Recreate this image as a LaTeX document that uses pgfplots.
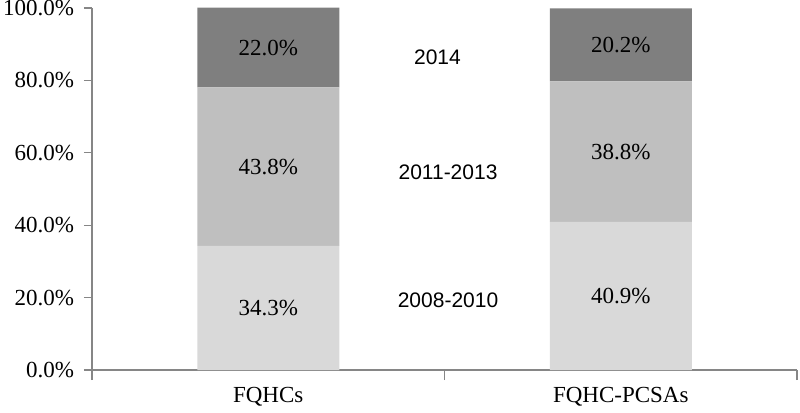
\documentclass[border=0pt]{standalone}
\usepackage{pgfplots}
\pgfplotsset{compat=1.18}
\usepackage{fontspec}
\setmainfont{Liberation Serif}
\newfontfamily\arialf{Liberation Sans}
\definecolor{c1}{HTML}{D9D9D9}
\definecolor{c2}{HTML}{BFBFBF}
\definecolor{c3}{HTML}{7F7F7F}
\definecolor{axgray}{HTML}{868686}
\tikzset{vlab/.style={font=\fontsize{11.5}{13}\selectfont},
         ylab/.style={font=\arialf\fontsize{10.5}{12}\selectfont}}
\begin{document}
\begin{tikzpicture}
\begin{axis}[
  name=ax,
  scale only axis,
  width=352.5pt, height=181pt,
  xmin=-0.5, xmax=1.5, ymin=0, ymax=100,
  ybar stacked, bar width=71pt,
  axis x line*=bottom, axis y line*=left,
  axis line style={draw=axgray, line width=0.6pt},
  xtick={0,1}, xticklabels={FQHCs,FQHC-PCSAs},
  minor xtick={-0.5,0.5,1.5},
  ytick={0,20,40,60,80,100},
  yticklabels={0.0\%,20.0\%,40.0\%,60.0\%,80.0\%,100.0\%},
  y tick style={draw=axgray, line width=0.6pt},
  minor x tick style={draw=axgray, line width=0.6pt},
  major x tick style={draw=none},
  major tick length=4pt,
  minor tick length=5pt,
  tick align=outside,
  xtick pos=bottom, ytick pos=left,
  ticklabel style={font=\fontsize{11.5}{13}\selectfont},
  yticklabel style={xshift=-1.5pt},
  xticklabel style={yshift=-1pt},
  clip=false,
]
\addplot[fill=c1, draw=none] coordinates {(0,34.3) (1,40.9)};
\addplot[fill=c2, draw=none] coordinates {(0,43.8) (1,38.8)};
\addplot[fill=c3, draw=none] coordinates {(0,22.0) (1,20.2)};
\end{axis}
\begin{axis}[
  at={(ax.south west)}, anchor=south west,
  scale only axis,
  width=352.5pt, height=181pt,
  xmin=-0.5, xmax=1.5, ymin=0, ymax=100,
  hide axis, clip=false,
]
\node[vlab] at (axis cs:0,17.15) {34.3\%};
\node[vlab] at (axis cs:0,56.2) {43.8\%};
\node[vlab] at (axis cs:0,89.0) {22.0\%};
\node[vlab] at (axis cs:1,20.45) {40.9\%};
\node[vlab] at (axis cs:1,60.3) {38.8\%};
\node[vlab] at (axis cs:1,89.9) {20.2\%};
\node[ylab] at (axis cs:0.48,86.5) {2014};
\node[ylab] at (axis cs:0.51,54.7) {2011-2013};
\node[ylab] at (axis cs:0.51,19.3) {2008-2010};
\end{axis}
\pgfresetboundingbox
\path ([shift={(-46pt,-21pt)}]ax.south west) rectangle ([shift={(1.5pt,4pt)}]ax.north east);
\end{tikzpicture}
\end{document}
